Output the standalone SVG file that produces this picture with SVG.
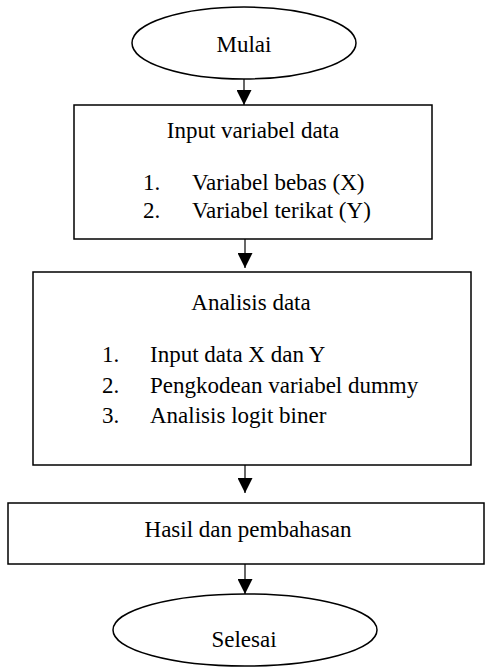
<svg xmlns="http://www.w3.org/2000/svg" width="485" height="667" viewBox="0 0 485 667">
<style>
.s{fill:#fff;stroke:#000;stroke-width:1.5}
.t{font-family:'Liberation Serif','Times New Roman',Times,'DejaVu Serif',serif;font-size:23px;fill:#000}
.c{stroke:#000;stroke-width:1.2;fill:none}
</style>
<defs>
<marker id="a" markerWidth="15" markerHeight="15" refX="15" refY="7.5" orient="auto" markerUnits="userSpaceOnUse" viewBox="0 0 15 15">
<path d="M0,0 L15,7.5 L0,15 Z" fill="#000"/>
</marker>
</defs>
<g id="connectors">
<line class="c" x1="244" y1="79" x2="244" y2="105" marker-end="url(#a)"/>
<line class="c" x1="245" y1="239" x2="245" y2="268" marker-end="url(#a)"/>
<line class="c" x1="245" y1="465" x2="245" y2="493" marker-end="url(#a)"/>
<line class="c" x1="245" y1="564" x2="245" y2="594" marker-end="url(#a)"/>
</g>
<g id="mulai">
<ellipse class="s" cx="244" cy="43" rx="112" ry="36"/>
<text class="t" x="244" y="52" text-anchor="middle" font-family="Liberation Serif">Mulai</text>
</g>
<g id="input">
<rect class="s" x="74" y="105" width="358" height="134"/>
<text class="t" x="253" y="138" text-anchor="middle">Input variabel data</text>
<text class="t" x="143" y="190">1.</text>
<text class="t" x="192" y="190">Variabel bebas (X)</text>
<text class="t" x="143" y="218">2.</text>
<text class="t" x="192" y="218">Variabel terikat (Y)</text>
</g>
<g id="analisis">
<rect class="s" x="33" y="272" width="438" height="193"/>
<text class="t" x="251" y="310" text-anchor="middle">Analisis data</text>
<text class="t" x="102" y="362">1.</text>
<text class="t" x="150" y="362">Input data X dan Y</text>
<text class="t" x="102" y="393">2.</text>
<text class="t" x="150" y="393">Pengkodean variabel dummy</text>
<text class="t" x="102" y="423">3.</text>
<text class="t" x="150" y="423">Analisis logit biner</text>
</g>
<g id="hasil">
<rect class="s" x="8" y="503" width="476" height="61"/>
<text class="t" x="248" y="537" text-anchor="middle">Hasil dan pembahasan</text>
</g>
<g id="selesai">
<ellipse class="s" cx="245" cy="630" rx="132" ry="36"/>
<text class="t" x="244" y="647" text-anchor="middle">Selesai</text>
</g>
</svg>
